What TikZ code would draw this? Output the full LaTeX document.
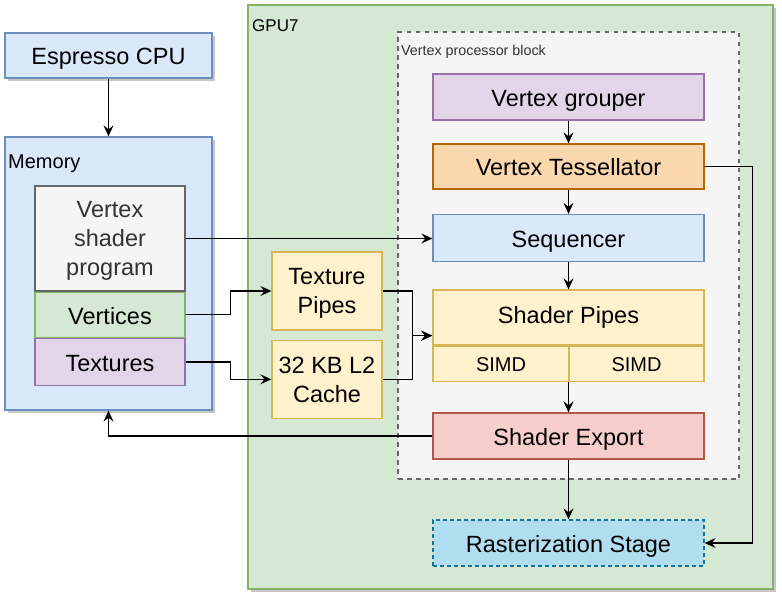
\documentclass[tikz,border=0pt]{standalone}
\usepackage{fontspec}
\setmainfont{Liberation Sans}
\usepackage{xcolor}
\usepackage{tikz}
\usetikzlibrary{arrows.meta,positioning,shadows,fit}
\definecolor{ioblue}{HTML}{DAE8FC}
\definecolor{iobluedk}{HTML}{6C8EBF}
\definecolor{iogreen}{HTML}{D5E8D4}
\definecolor{iogreendk}{HTML}{82B366}
\definecolor{iopurple}{HTML}{E1D5E7}
\definecolor{iopurpledk}{HTML}{9673A6}
\definecolor{iogray}{HTML}{F5F5F5}
\definecolor{iograydk}{HTML}{666666}
\definecolor{iotext}{HTML}{333333}
\definecolor{ioorange}{HTML}{FAD7AC}
\definecolor{ioorangedk}{HTML}{B46504}
\definecolor{ioyellow}{HTML}{FFF2CC}
\definecolor{ioyellowdk}{HTML}{D6B656}
\definecolor{iored}{HTML}{F8CECC}
\definecolor{ioreddk}{HTML}{B85450}
\definecolor{iocyan}{HTML}{B1DDF0}
\definecolor{iocyandk}{HTML}{10739E}

\begin{document}
\begin{tikzpicture}[x=1pt, y=-1pt, >={Stealth[length=11pt,width=10pt,inset=4pt]},
  every node/.style={font=\fontsize{23.5}{29}\selectfont, text height=18.8pt, text depth=0pt},
  box/.style={draw, line width=1.3pt, align=center, inner sep=0pt},
  multi/.style={text height=},
  small/.style={font=\fontsize{20}{24}\selectfont, text height=16pt},
  lbl/.style={anchor=west, inner sep=0pt},
  shade/.style={drop shadow={shadow xshift=3pt, shadow yshift=-3pt, fill=black!22, opacity=1}},
  blue/.style={box, fill=ioblue, draw=iobluedk},
  green/.style={box, fill=iogreen, draw=iogreendk},
  purple/.style={box, fill=iopurple, draw=iopurpledk},
  gray/.style={box, fill=iogray, draw=iograydk, text=iotext},
  orange/.style={box, fill=ioorange, draw=ioorangedk},
  yellow/.style={box, fill=ioyellow, draw=ioyellowdk},
  red/.style={box, fill=iored, draw=ioreddk},
  wire/.style={->, line width=1.3pt}]
  \useasboundingbox (0,0) rectangle (782,600);

  % containers
  \node[green, shade, minimum width=525pt, minimum height=584pt] (gpu) at (510.5,297) {};
  \node[lbl, font=\fontsize{17}{20}\selectfont, text height=13.6pt] (gpulbl) at (252,25) {GPU7};
  \node[gray, dash pattern=on 4.5pt off 4.5pt, minimum width=341pt, minimum height=447pt] (vpb) at (568.5,255.5) {};
  \node[lbl, text=iotext, font=\fontsize{14.3}{17}\selectfont, text height=11.4pt] (vpblbl) at (401,50) {Vertex processor block};
  \node[blue, shade, minimum width=207pt, minimum height=273pt] (mem) at (108.5,273.5) {};
  \node[lbl, small] (memlbl) at (8,160) {Memory};

  % host side
  \node[blue, shade, minimum width=207pt, minimum height=45pt] (cpu) at (108.5,55.5) {Espresso CPU};
  \node[gray, multi, minimum width=150pt, minimum height=105pt] (vsp) at (110,238.5) {Vertex\\shader\\program};
  \node[green, minimum width=150pt, minimum height=45pt, below=0pt of vsp] (vtx) {Vertices};
  \node[purple, minimum width=150pt, minimum height=47pt, below=0pt of vtx] (tex) {Textures};

  % texture path
  \node[yellow, multi, minimum width=110pt, minimum height=78pt] (tp) at (327,291) {Texture\\Pipes};
  \node[yellow, multi, minimum width=110pt, minimum height=78pt, below=9pt of tp] (l2) {32 KB L2\\Cache};

  % vertex processor
  \node[purple, minimum width=271pt, minimum height=46pt] (grp) at (568.5,97) {Vertex grouper};
  \node[orange, minimum width=271pt, minimum height=45pt] (tess) at (568.5,166.5) {Vertex Tessellator};
  \node[blue, minimum width=271pt, minimum height=47pt] (seq) at (568.5,238) {Sequencer};
  \node[yellow, minimum width=271pt, minimum height=55pt, text depth=7pt] (shp) at (568.5,317.5) {Shader Pipes};
  \node[yellow, small, minimum width=136pt, minimum height=35pt, anchor=north west] (simda) at (shp.south west) {SIMD};
  \node[yellow, small, minimum width=135pt, minimum height=35pt, anchor=north east] (simdb) at (shp.south east) {SIMD};
  \node[fit=(shp)(simda)(simdb), inner sep=0pt] (pipes) {};
  \node[red, minimum width=271pt, minimum height=46pt] (exp) at (568.5,436) {Shader Export};
  \node[box, fill=iocyan, draw=iocyandk, dash pattern=on 4pt off 3pt, minimum width=271pt, minimum height=46pt] (ras) at (568.5,543) {Rasterization Stage};

  \draw[wire] (cpu) -- (mem);
  \draw[wire] (vsp.east) -- (vsp.east -| seq.west);
  \draw[wire] (vtx.east) -- ++(45,0) |- (tp.west);
  \draw[wire] (tex.east) -- ++(45,0) |- (l2.west);
  \draw[wire] (tp.east) -- ++(30,0) |- (pipes.west);
  \draw[wire] (l2.east) -- ++(30,0) |- (pipes.west);
  \draw[wire] (grp) -- (tess);
  \draw[wire] (tess) -- (seq);
  \draw[wire] (seq) -- (shp);
  \draw[wire] (pipes.south) -- (exp.north);
  \draw[wire] (tess.east) -- ++(48,0) |- (ras.east);
  \draw[wire] (exp.west) -| (mem.south);
  \draw[wire] (exp) -- (ras);
\end{tikzpicture}
\end{document}
